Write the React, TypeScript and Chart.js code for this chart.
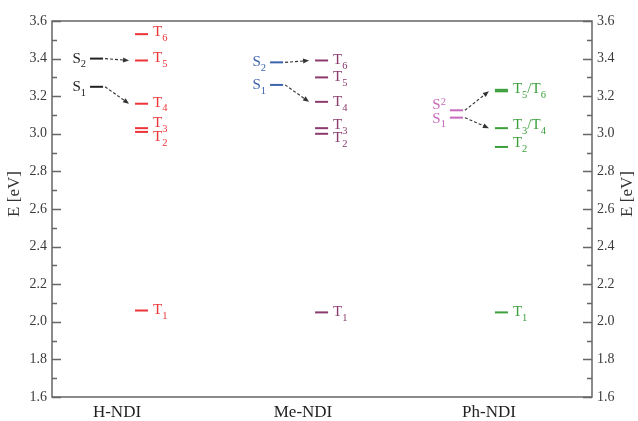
import React, { useEffect, useRef } from 'react';
import { Chart, registerables } from 'chart.js';

Chart.register(...registerables);

// ---------- data ----------
const molecules = ['H-NDI', 'Me-NDI', 'Ph-NDI'];
const categoryPositions = [1, 2, 3];
const yTickValues = [1.6, 1.8, 2.0, 2.2, 2.4, 2.6, 2.8, 3.0, 3.2, 3.4, 3.6];
const yTitle = 'E [eV]';

// H-NDI
const hSingletE = [3.25, 3.40];
const hSingletLabels = ['S_1', 'S_2'];
const hTripletE = [2.06, 3.01, 3.03, 3.16, 3.39, 3.53];
const hTripletLabels = ['T_1', 'T_2', 'T_3', 'T_4', 'T_5', 'T_6'];
const hArrows = [[1, 4], [0, 3]]; // [singlet index, triplet index]

// Me-NDI
const meSingletE = [3.26, 3.38];
const meSingletLabels = ['S_1', 'S_2'];
const meTripletE = [2.05, 3.0, 3.03, 3.17, 3.3, 3.39];
const meTripletLabels = ['T_1', 'T_2', 'T_3', 'T_4', 'T_5', 'T_6'];
const meArrows = [[1, 5], [0, 3]];

// Ph-NDI
const phSingletE = [3.086, 3.125];
const phSingletLabels = ['S_1', 'S^2'];
const phTripletE = [2.05, 2.93, 3.03, 3.226, 3.234];
const phTripletLabels = ['T_1', 'T_2', 'T_3/T_4', 'T_5/T_6', ''];
const phArrows = [[1, 3], [0, 2]];

// ---------- styles / layout ----------
const FONT = '"Liberation Serif", "Times New Roman", serif';
const S_SPAN = [-0.156, -0.086];
const T_SPAN = [0.086, 0.156];
const groupShift = [0.011, -0.021, -0.054];
const groups = [
  {
    sE: hSingletE, sL: hSingletLabels, tE: hTripletE, tL: hTripletLabels, arrows: hArrows,
    sColor: '#222222', tColor: '#ec3439',
    sNudge: [0, 0], tNudge: [0, 5, -5, -1, -2, -2],
  },
  {
    sE: meSingletE, sL: meSingletLabels, tE: meTripletE, tL: meTripletLabels, arrows: meArrows,
    sColor: '#3d63ad', tColor: '#8c3a6e',
    sNudge: [0, 0], tNudge: [0, 4, -3, 0, 0, 0],
  },
  {
    sE: phSingletE, sL: phSingletLabels, tE: phTripletE, tL: phTripletLabels, arrows: phArrows,
    sColor: '#c869bd', tColor: '#3b9f3b',
    sNudge: [1, -5], tNudge: [0, -4, -3, -2, 0],
  },
];

function drawRich(ctx: CanvasRenderingContext2D, text: string, x: number, y: number, color: string, align: 'left' | 'right') {
  const parts: { t: string; mode: string; w: number }[] = [];
  for (let i = 0; i < text.length; i++) {
    const c = text[i];
    if ((c === '_' || c === '^') && i + 1 < text.length) {
      parts.push({ t: text[i + 1], mode: c, w: 0 });
      i++;
    } else parts.push({ t: c, mode: '', w: 0 });
  }
  const big = `15px ${FONT}`;
  const small = `10.5px ${FONT}`;
  let w = 0;
  for (const p of parts) {
    ctx.font = p.mode ? small : big;
    p.w = ctx.measureText(p.t).width;
    w += p.w;
  }
  let cx = align === 'right' ? x - w : x;
  ctx.fillStyle = color;
  ctx.textBaseline = 'middle';
  ctx.textAlign = 'left';
  for (const p of parts) {
    ctx.font = p.mode ? small : big;
    const dy = p.mode === '_' ? 6 : p.mode === '^' ? -3 : 0;
    ctx.fillText(p.t, cx, y + dy);
    cx += p.w;
  }
}

const decorPlugin = {
  id: 'decor',
  afterDatasetsDraw(chart: any) {
    const ctx: CanvasRenderingContext2D = chart.ctx;
    const xs = chart.scales.x;
    const ys = chart.scales.y;
    const area = chart.chartArea;
    ctx.save();

    groups.forEach((g, gi) => {
      const pos = categoryPositions[gi] + groupShift[gi];
      const sStart = xs.getPixelForValue(pos + S_SPAN[0]);
      const sEnd = xs.getPixelForValue(pos + S_SPAN[1]);
      const tStart = xs.getPixelForValue(pos + T_SPAN[0]);
      const tEnd = xs.getPixelForValue(pos + T_SPAN[1]);
      g.sE.forEach((e, i) => {
        if (!g.sL[i]) return;
        drawRich(ctx, g.sL[i], sStart - 4, ys.getPixelForValue(e) + (g.sNudge[i] || 0), g.sColor, 'right');
      });
      g.tE.forEach((e, i) => {
        if (!g.tL[i]) return;
        drawRich(ctx, g.tL[i], tEnd + 5, ys.getPixelForValue(e) + (g.tNudge[i] || 0), g.tColor, 'left');
      });
      g.arrows.forEach(([si, ti]) => {
        const x0 = sEnd + 2;
        const y0 = ys.getPixelForValue(g.sE[si]);
        const x1 = tStart - 6;
        const y1 = ys.getPixelForValue(g.tE[ti]);
        const ang = Math.atan2(y1 - y0, x1 - x0);
        ctx.strokeStyle = '#333';
        ctx.lineWidth = 1.1;
        ctx.setLineDash([3, 2]);
        ctx.beginPath();
        ctx.moveTo(x0, y0);
        ctx.lineTo(x1 - 4 * Math.cos(ang), y1 - 4 * Math.sin(ang));
        ctx.stroke();
        ctx.setLineDash([]);
        ctx.fillStyle = '#333';
        ctx.beginPath();
        ctx.moveTo(x1, y1);
        ctx.lineTo(x1 - 6 * Math.cos(ang) + 2.5 * Math.sin(ang), y1 - 6 * Math.sin(ang) - 2.5 * Math.cos(ang));
        ctx.lineTo(x1 - 6 * Math.cos(ang) - 2.5 * Math.sin(ang), y1 - 6 * Math.sin(ang) + 2.5 * Math.cos(ang));
        ctx.closePath();
        ctx.fill();
      });
    });

    // frame
    ctx.strokeStyle = '#666';
    ctx.lineWidth = 1.5;
    ctx.strokeRect(area.left, area.top, area.right - area.left, area.bottom - area.top);

    // inward ticks, major + minor
    for (let k = 0; k <= 20; k++) {
      const v = ys.min + k * 0.1;
      const py = Math.round(ys.getPixelForValue(v)) + 0.5;
      const len = k % 2 === 0 ? 9 : 5;
      ctx.beginPath();
      ctx.moveTo(area.left, py);
      ctx.lineTo(area.left + len, py);
      ctx.moveTo(area.right, py);
      ctx.lineTo(area.right - len, py);
      ctx.stroke();
    }

    // axis titles
    ctx.fillStyle = '#333';
    ctx.font = `17px ${FONT}`;
    ctx.textAlign = 'center';
    ctx.textBaseline = 'middle';
    [15, 628].forEach((tx) => {
      ctx.save();
      ctx.translate(tx, 194);
      ctx.rotate(-Math.PI / 2);
      ctx.fillText(yTitle, 0, 0);
      ctx.restore();
    });

    ctx.restore();
  },
};

export default function App() {
  const ref = useRef<HTMLCanvasElement | null>(null);

  useEffect(() => {
    if (!ref.current) return;
    const datasets: any[] = [];
    groups.forEach((g, gi) => {
      const pos = categoryPositions[gi] + groupShift[gi];
      g.sE.forEach((e) => {
        datasets.push({
          data: [{ x: pos + S_SPAN[0], y: e }, { x: pos + S_SPAN[1], y: e }],
          borderColor: g.sColor, borderWidth: 2, pointRadius: 0, fill: false,
        });
      });
      g.tE.forEach((e) => {
        datasets.push({
          data: [{ x: pos + T_SPAN[0], y: e }, { x: pos + T_SPAN[1], y: e }],
          borderColor: g.tColor, borderWidth: 2, pointRadius: 0, fill: false,
        });
      });
    });

    const tickFont = { family: FONT, size: 14 };
    const yScale = (position: string, width: number) => ({
      type: 'linear',
      position,
      min: 1.6,
      max: 3.6,
      afterBuildTicks: (s: any) => { s.ticks = yTickValues.map((v) => ({ value: v })); },
      afterFit: (s: any) => { s.width = width; },
      grid: { display: false, drawTicks: false },
      border: { display: false },
      ticks: {
        font: tickFont, color: '#3a3a3a', padding: 5,
        callback: (v: any) => Number(v).toFixed(1),
      },
    });

    const chart = new Chart(ref.current, {
      type: 'line',
      data: { datasets },
      options: {
        animation: false,
        responsive: false,
        devicePixelRatio: 1,
        layout: { padding: { top: 21, left: 0, right: 0, bottom: 0 } },
        plugins: { legend: { display: false }, tooltip: { enabled: false } },
        scales: {
          x: {
            type: 'linear',
            min: 0.6505,
            max: 3.554,
            afterBuildTicks: (s: any) => { s.ticks = categoryPositions.map((v) => ({ value: v })); },
            afterFit: (s: any) => { s.height = 24; },
            grid: { display: false, drawTicks: false },
            border: { display: false },
            ticks: {
              font: { family: FONT, size: 17 }, color: '#222', padding: 5,
              autoSkip: false, maxRotation: 0,
              callback: (_v: any, i: number) => molecules[i],
            },
          },
          y: yScale('left', 52),
          y2: yScale('right', 46),
        },
      } as any,
      plugins: [decorPlugin],
    });
    return () => chart.destroy();
  }, []);

  return (
    <div style={{ position: 'absolute', left: 0, top: 0, width: 638, height: 421, background: '#fff' }}>
      <canvas ref={ref} width={638} height={421} style={{ width: 638, height: 421, display: 'block' }} />
    </div>
  );
}
